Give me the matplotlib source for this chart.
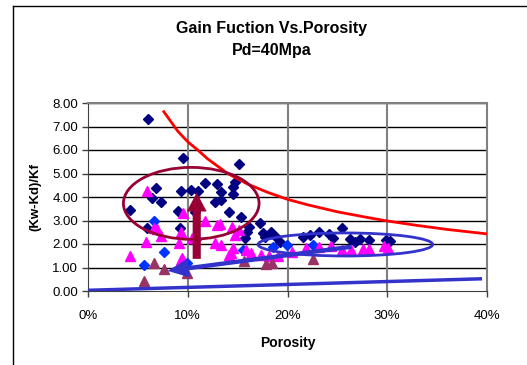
import matplotlib.pyplot as plt
from matplotlib.lines import Line2D
from matplotlib.patches import Ellipse, FancyArrowPatch
from matplotlib.ticker import PercentFormatter, FormatStrFormatter

plt.rcParams['font.family'] = ['Liberation Sans', 'DejaVu Sans']

# data (porosity in %, gain function)
navy_x = [5.97, 9.5, 6.85, 6.45, 7.3, 4.23, 9.3, 10.3, 9.0, 9.26, 5.9, 10.7,
          11.0, 11.7, 12.9, 14.7, 14.5, 13.3, 14.5, 12.7, 13.3, 14.1, 15.3,
          17.2, 16.1, 15.9, 17.5, 18.3, 15.7, 17.7, 18.8, 19.2, 15.1, 25.5,
          23.2, 22.3, 24.2, 21.6, 26.3, 27.3, 28.2, 29.9, 26.8, 24.6, 30.3]
navy_y = [7.31, 5.65, 4.40, 3.97, 3.80, 3.45, 4.26, 4.30, 3.40, 2.69, 2.67, 3.37,
          4.26, 4.61, 4.55, 4.65, 4.41, 4.20, 4.11, 3.80, 3.87, 3.35, 3.16,
          2.91, 2.71, 2.52, 2.45, 2.51, 2.24, 2.29, 2.29, 2.09, 5.40, 2.67,
          2.50, 2.38, 2.41, 2.30, 2.20, 2.21, 2.17, 2.17, 2.10, 2.27, 2.12]

blue_x = [6.6, 7.65, 5.57, 9.9, 15.5, 19.9, 18.5, 22.6]
blue_y = [2.99, 1.66, 1.09, 1.18, 1.74, 1.97, 1.86, 1.96]

pink_x = [5.9, 9.5, 6.6, 6.9, 7.3, 5.84, 4.23, 9.1, 9.33, 10.4, 9.33, 11.7,
          13.2, 14.4, 15.1, 14.7, 12.7, 13.3, 14.5, 14.1, 15.8, 16.3, 17.3,
          18.1, 19.0, 21.9, 23.2, 24.4, 25.5, 26.4, 27.6, 28.2, 29.7, 30.1,
          10.8, 12.9, 14.3, 9.4, 20.5]
pink_y = [4.26, 3.33, 2.67, 2.62, 2.34, 2.10, 1.49, 2.06, 2.52, 2.24, 1.32, 2.99,
          2.85, 2.71, 2.60, 2.38, 2.03, 1.96, 1.82, 1.53, 1.74, 1.60, 1.53,
          1.49, 1.49, 1.84, 1.89, 1.93, 1.74, 1.74, 1.79, 1.79, 1.93, 1.84,
          2.38, 2.80, 1.60, 1.39, 1.65]

plum_x = [6.6, 7.6, 5.57, 9.9, 15.6, 17.8, 18.4, 22.6]
plum_y = [1.20, 0.92, 0.43, 0.78, 1.29, 1.15, 1.18, 1.35]

# drawn-in trend lines
red_x = [7.6, 9, 10, 11, 12, 14, 16, 18, 20, 22, 25, 28, 30, 33, 36, 40]
red_y = [7.63, 6.8, 6.35, 6.0, 5.62, 5.0, 4.55, 4.2, 3.9, 3.67, 3.37, 3.13,
         2.98, 2.79, 2.62, 2.43]
base_x = [0.0, 39.5]
base_y = [0.03, 0.52]

# annotations: ellipses (center x, center y, width, height) and arrows
red_ell = (10.35, 3.73, 13.6, 3.06)
blue_ell = (25.8, 1.98, 17.5, 0.98)
red_arrow = ((10.9, 1.25), (10.9, 4.30))
blue_arrow = ((26.7, 1.90), (7.7, 0.84))

fig = plt.figure(figsize=(5.27, 3.65), dpi=100)
ax = fig.add_axes([88 / 527, 1 - 291 / 365, 399 / 527, 188 / 365])

ax.plot(navy_x, navy_y, 'D', color='#000080', ms=4.6, mec='#000080', zorder=3)
ax.plot(blue_x, blue_y, 'D', color='#0033FF', ms=4.6, zorder=3)
ax.plot(pink_x, pink_y, '^', color='#FF00FF', ms=6.5, zorder=4)
ax.plot(plum_x, plum_y, '^', color='#993366', ms=6.5, zorder=4)

ax.plot(red_x, red_y, color='#FF0000', lw=2, zorder=5)
ax.plot(base_x, base_y, color='#3333CC', lw=2.5, zorder=5, solid_capstyle='butt')

for (cx, cy, w, h), c in [(red_ell, '#990033'), (blue_ell, '#3333CC')]:
    ax.add_patch(Ellipse((cx, cy), w, h, fill=False, ec=c, lw=2, zorder=6))

ax.add_patch(FancyArrowPatch(red_arrow[0], red_arrow[1],
                             arrowstyle='simple,head_width=1.6,head_length=1.5,tail_width=0.65',
                             mutation_scale=9, color='#990033', lw=0, zorder=7))
ax.add_patch(FancyArrowPatch(blue_arrow[0], blue_arrow[1],
                             arrowstyle='simple,head_width=1.5,head_length=1.7,tail_width=0.35',
                             mutation_scale=9, color='#3333CC', lw=0, zorder=7))

ax.set_xlim(0, 40)
ax.set_ylim(0, 8)
ax.set_xticks([0, 10, 20, 30, 40])
ax.set_yticks(range(0, 9))
ax.xaxis.set_major_formatter(PercentFormatter(decimals=0))
ax.yaxis.set_major_formatter(FormatStrFormatter('%.2f'))
ax.tick_params(direction='out', length=4, width=1, color='#404040',
               labelsize=9.5, pad=3)
ax.tick_params(axis='x', pad=10)

ax.grid(False)
for v in range(1, 9):
    ax.axhline(v, color='black', lw=1, zorder=1)
for v in [10, 20, 30]:
    ax.axvline(v, color='#808080', lw=1.5, zorder=1)

for s in ['top', 'right']:
    ax.spines[s].set_color('#808080')
    ax.spines[s].set_linewidth(1.5)
for s in ['left', 'bottom']:
    ax.spines[s].set_color('#404040')

ax.set_xlabel('Porosity', fontsize=10, fontweight='bold', labelpad=10)
ax.set_ylabel('(Kw-Kd)/Kf', fontsize=9.5, fontweight='bold', labelpad=8)

fig.text(272 / 527, 1 - 29 / 365, 'Gain Fuction Vs.Porosity', ha='center',
         va='center', fontsize=11.5, fontweight='bold')
fig.text(272 / 527, 1 - 51 / 365, 'Pd=40Mpa', ha='center', va='center',
         fontsize=11.5, fontweight='bold')

# outer chart frame (runs off the right and bottom edges)
fig.add_artist(Line2D([13 / 527, 13 / 527], [0, 1 - 6 / 365], color='black', lw=1))
fig.add_artist(Line2D([13 / 527, 1], [1 - 6 / 365, 1 - 6 / 365], color='black', lw=1))

fig.savefig('out.png', dpi=100)
